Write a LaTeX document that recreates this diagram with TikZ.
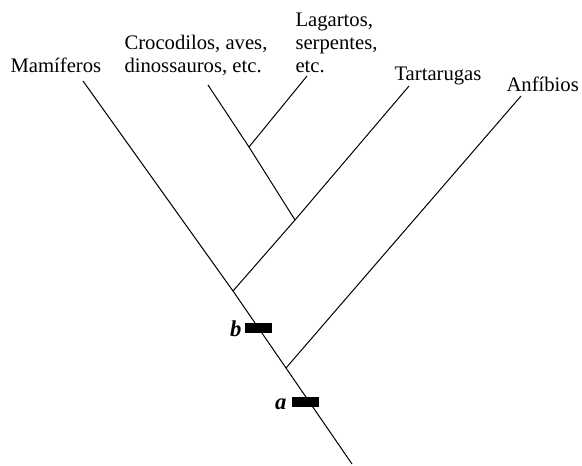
\documentclass[tikz,border=0pt]{standalone}
\usepackage{fontspec}
\setmainfont{Liberation Serif}

\tikzset{every picture/.style={line width=0.75pt}}
\tikzset{
  taxon/.style={anchor=base west, inner sep=0pt, align=left, font=\fontsize{15.5}{17.3}\selectfont},
  mark bar/.style={fill=black, inner sep=0pt, minimum width=20.25pt, minimum height=7.5pt},
  mark lbl/.style={inner sep=0pt, font=\fontsize{17}{19}\selectfont\bfseries\itshape}
}

\begin{document}
\begin{tikzpicture}[x=0.75pt,y=0.75pt,yscale=-1,xscale=1]
%set diagram left start at 0, and has height of 466
\useasboundingbox (0,0) rectangle (582,466);

% Text Node (base = last line)
\node [taxon] (mam) at (10,73) {Mamíferos};
% Text Node
\node [taxon] (croc) at (124,73) {Crocodilos, aves,\\dinossauros, etc.};
% Text Node
\node [taxon] (lag) at (295,73) {Lagartos,\\serpentes,\\etc.};
% Text Node
\node [taxon] (tart) at (394,81) {Tartarugas};
% Text Node
\node [taxon] (anf) at (506,92) {Anfíbios};

% tips and junctions
\coordinate (mamtip) at (83,81);
\coordinate (croctip) at (208,85);
\coordinate (lagtip) at (307,76);
\coordinate (tarttip) at (409,86);
\coordinate (anftip) at (521,96);
\coordinate (lagcroc) at (249,147);
\coordinate (tartcroc) at (295,220);
\coordinate (reptil) at (233,291);
\coordinate (amniota) at (286,368);
\coordinate (root) at (352,464);

%Straight Lines
\draw    (mamtip) -- (reptil) -- (amniota) -- (root) ;
%Straight Lines
\draw    (croctip) -- (lagcroc) -- (tartcroc) ;
%Straight Lines
\draw    (lagtip) -- (lagcroc) ;
%Straight Lines
\draw    (tarttip) -- (tartcroc) -- (reptil) ;
%Straight Lines
\draw    (anftip) -- (amniota) ;

% marks on the stem
\node [mark bar] (barb) at (258.5,328) {};
\node [mark lbl, anchor=east] (lblb) at (242,329) {b};
\node [mark bar] (bara) at (305.5,402) {};
\node [mark lbl, anchor=east] (lbla) at (287,404) {a};

\end{tikzpicture}
\end{document}
